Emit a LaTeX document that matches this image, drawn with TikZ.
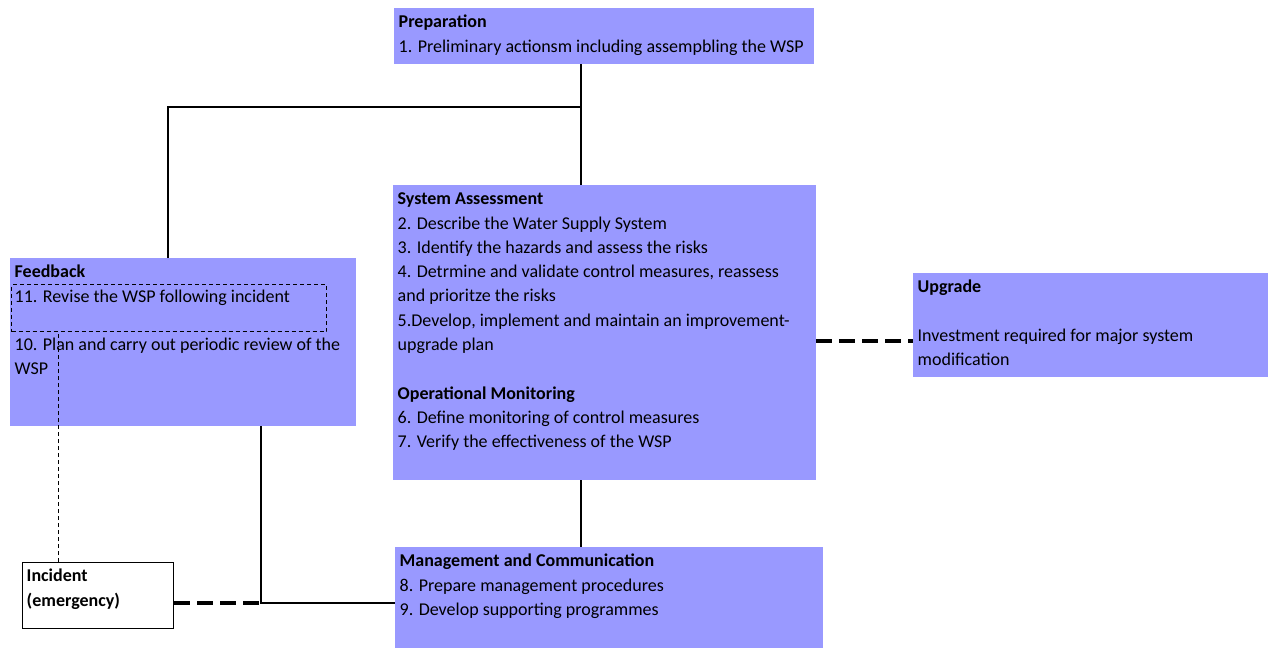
\documentclass[tikz,border=0pt]{standalone}
\usepackage{fontspec}
\setmainfont{Carlito}
\definecolor{stagefill}{RGB}{153,153,255}
\tikzset{
  stage/.style={fill=stagefill, draw=none, inner sep=0pt, anchor=north west},
  boxtext/.style={anchor=north west, inner xsep=4.5pt, inner ysep=2.5pt, align=left,
                  font=\fontsize{18}{24.3}\selectfont, text=black},
  link/.style={line width=2.2pt},
  thickdash/.style={line width=4pt, dash pattern=on 16pt off 7pt},
  thindash/.style={line width=1pt, dash pattern=on 4pt off 3pt},
}
\begin{document}
\begin{tikzpicture}[x=1pt, y=-1pt]
\useasboundingbox[fill=white] (0,0) rectangle (1269,648);

% stage boxes
\node[stage, minimum width=420pt, minimum height=56pt]  (prep) at (394,8)   {};
\node[stage, minimum width=423pt, minimum height=295pt] (sa)   at (393,185) {};
\node[stage, minimum width=346pt, minimum height=168pt] (fb)   at (10,258)  {};
\node[stage, minimum width=355pt, minimum height=104pt] (up)   at (913,273) {};
\node[stage, minimum width=428pt, minimum height=101pt] (mgmt) at (395,547) {};
\node[draw, fill=white, line width=1pt, inner sep=0pt, anchor=north west,
      minimum width=151pt, minimum height=66pt] (inc) at (22,562) {};
\node[draw, thindash, inner sep=0pt, anchor=north west,
      minimum width=315pt, minimum height=47pt] (fbRev) at (11,284) {};

% box texts
\node[boxtext] (prepTxt) at (prep.north west) {\strut\textbf{Preparation}\\
  1. Preliminary actionsm including assempbling the WSP};
\node[boxtext] (saTxt) at (sa.north west) {\strut\textbf{System Assessment}\\
  2. Describe the Water Supply System\\
  3. Identify the hazards and assess the risks\\
  4. Detrmine and validate control measures, reassess\\
  and prioritze the risks\\
  5.Develop, implement and maintain an improvement-\\
  upgrade plan\\[24.3pt]
  \textbf{Operational Monitoring}\\
  6. Define monitoring of control measures\\
  7. Verify the effectiveness of the WSP};
\node[boxtext] (fbTxt) at (fb.north west) {\strut\textbf{Feedback}\\
  11. Revise the WSP following incident\\[24.3pt]
  10. Plan and carry out periodic review of the\\
  WSP};
\node[boxtext] (upTxt) at (up.north west) {\strut\textbf{Upgrade}\\[24.3pt]
  Investment required for major system\\
  modification};
\node[boxtext] (mgmtTxt) at (mgmt.north west) {\strut\textbf{Management and Communication}\\
  8. Prepare management procedures\\
  9. Develop supporting programmes};
\node[boxtext] (incTxt) at (inc.north west) {\strut\textbf{Incident}\\
  \textbf{(emergency)}};

% junction points of the connectors
\coordinate (topJ) at (581,107);
\coordinate (fbJ)  at (168,107);
\coordinate (botJ) at (261,603);
\coordinate (upJ)  at (0,341);
\coordinate (incJ) at (58,0);

% connectors
\draw[link] (prep.south -| topJ) -- (sa.north -| topJ);
\draw[link] (fb.north -| fbJ) -- (fbJ) -- (topJ);
\draw[link] (sa.south -| topJ) -- (mgmt.north -| topJ);
\draw[link] (fb.south -| botJ) -- (botJ) -- (mgmt.west |- botJ);
\draw[thickdash] (inc.east |- botJ) -- (botJ);
\draw[thickdash] (sa.east |- upJ) -- (up.west |- upJ);
\draw[thindash] (inc.north -| incJ) -- (fbRev.south -| incJ);
\end{tikzpicture}
\end{document}
